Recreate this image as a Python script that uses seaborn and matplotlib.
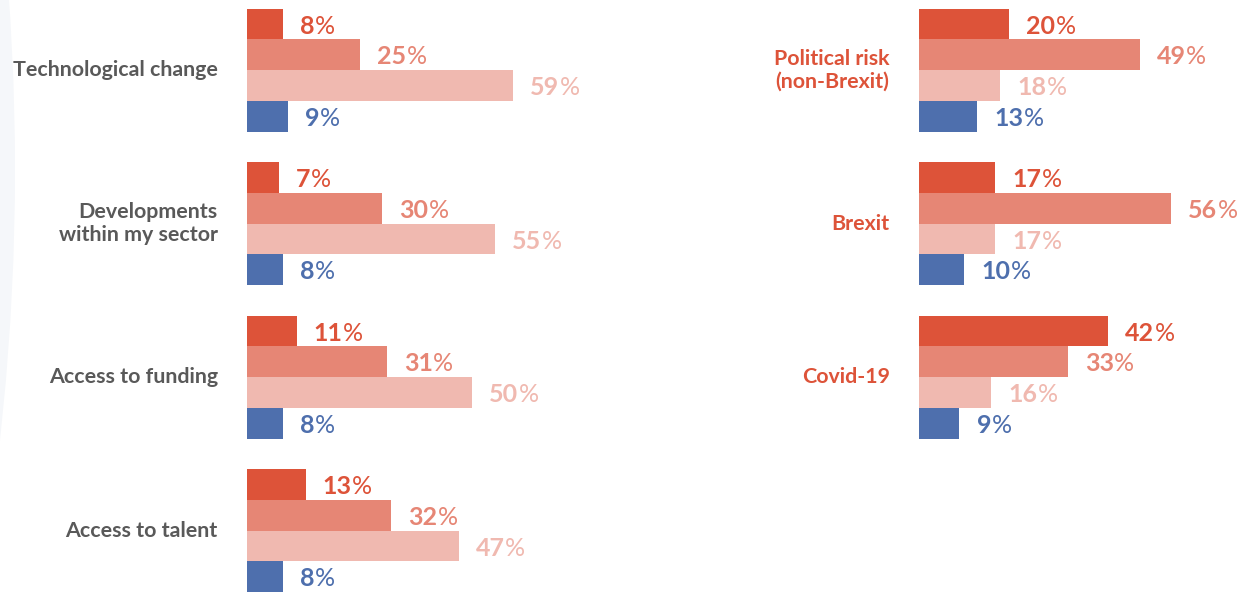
import matplotlib
matplotlib.use("Agg")
import matplotlib.pyplot as plt
from matplotlib.patches import Circle
import pandas as pd
import seaborn as sns

# Response shares (%) for each factor, one list per answer level
left_categories = ["Technological change", "Developments\nwithin my sector",
                   "Access to funding", "Access to talent"]
left_level1 = [8, 7, 11, 13]
left_level2 = [25, 30, 31, 32]
left_level3 = [59, 55, 50, 47]
left_level4 = [9, 8, 8, 8]

right_categories = ["Political risk\n(non-Brexit)", "Brexit", "Covid-19"]
right_level1 = [20, 17, 42]
right_level2 = [49, 56, 33]
right_level3 = [18, 17, 16]
right_level4 = [13, 10, 9]

levels = ["Level 1", "Level 2", "Level 3", "Level 4"]
colors = ["#DD5339", "#E68675", "#F0B9B0", "#4E6FAD"]
grey_text = "#595959"

sns.set_style("white")
plt.rcParams["font.family"] = ["Lato", "DejaVu Sans"]

W, H, DPI = 1251, 592, 100
fig = plt.figure(figsize=(W / DPI, H / DPI), dpi=DPI)
fig.patch.set_facecolor("white")

# faint background arc at the left edge
bg = fig.add_axes([0, 0, 1, 1], zorder=-5)
bg.set_xlim(0, W)
bg.set_ylim(H, 0)
bg.axis("off")
bg.add_patch(Circle((-2415, 170), 2430, color="#F5F7FA", lw=0))


def long_frame(cats, cols):
    rows = []
    for lvl, vals in zip(levels, cols):
        for c, v in zip(cats, vals):
            rows.append({"category": c, "level": lvl, "value": v})
    return pd.DataFrame(rows)


def draw_panel(ax, cats, cols, label_color, multialign):
    df = long_frame(cats, cols)
    sns.barplot(data=df, x="value", y="category", hue="level",
                order=cats, hue_order=levels, palette=colors,
                width=0.8, orient="h", saturation=1, linewidth=0,
                errorbar=None, legend=False, ax=ax)
    ax.set_xlim(0, 60)
    ax.set_ylim(3.40, -0.457)
    ax.axis("off")
    ax.patch.set_visible(False)

    # value labels: bold number followed by a thinner percent sign
    for container, col in zip(ax.containers, colors):
        for bar in container:
            v = bar.get_width()
            yc = bar.get_y() + bar.get_height() / 2
            num = ax.annotate(f"{v:g}", xy=(v, yc), xytext=(12.5, -1.5),
                              textcoords="offset points", ha="left",
                              va="center", fontsize=18,
                              fontweight="bold", color=col)
            ax.annotate("%", xy=(1, 0.5), xycoords=num, xytext=(0.3, 0),
                        textcoords="offset points", ha="left",
                        va="center", fontsize=18, fontweight="normal",
                        color=col)

    # factor names beside each group
    for i, cat in enumerate(cats):
        ax.annotate(cat, xy=(0, i), xytext=(-21, 0),
                    textcoords="offset points", ha="right", va="center",
                    multialignment=multialign, fontsize=15.4,
                    fontweight="bold", color=label_color, linespacing=1.15)


ax_left = fig.add_axes([247 / W, 0, 270 / W, 1])
draw_panel(ax_left, left_categories,
           [left_level1, left_level2, left_level3, left_level4],
           grey_text, "right")

ax_right = fig.add_axes([919 / W, 0, 270 / W, 1])
draw_panel(ax_right, right_categories,
           [right_level1, right_level2, right_level3, right_level4],
           colors[0], "center")

fig.savefig("out.png", dpi=DPI, facecolor="white")
